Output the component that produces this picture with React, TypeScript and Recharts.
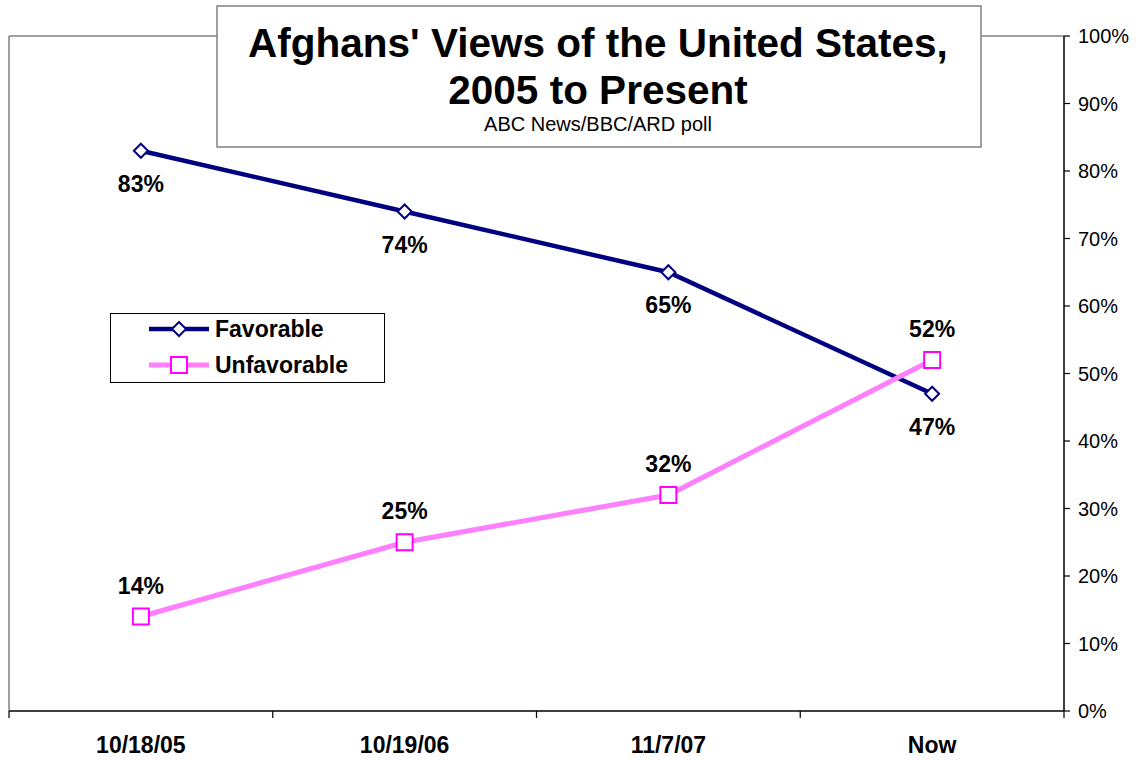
import React from 'react';
import { LineChart, Line, XAxis, YAxis, ReferenceLine, LabelList, Legend } from 'recharts';

const categories = ['10/18/05', '10/19/06', '11/7/07', 'Now'];
const favorable = [83, 74, 65, 47];
const unfavorable = [14, 25, 32, 52];
const yTicks = [0, 10, 20, 30, 40, 50, 60, 70, 80, 90, 100];
const xBoundaries = [-0.5, 0.5, 1.5, 2.5, 3.5];
const xCenters = [0, 1, 2, 3];
const seriesNames = ['Favorable', 'Unfavorable'];

const data = categories.map((c, i) => ({
  x: i,
  cat: c,
  favorable: favorable[i],
  unfavorable: unfavorable[i],
}));

const FONT = 'Arial, "Liberation Sans", Helvetica, sans-serif';
const NAVY = '#000080';
const PINK = '#FF80FF';
const MAGENTA = '#FF00FF';
const GRAY = '#808080';

const Diamond = (props: any) => {
  const { cx, cy, index } = props;
  if (cx == null || cy == null) return null;
  const r = 7;
  return (
    <path
      key={`d-${index}`}
      d={`M${cx},${cy - r}L${cx + r},${cy}L${cx},${cy + r}L${cx - r},${cy}Z`}
      fill="#fff"
      stroke={NAVY}
      strokeWidth={2}
    />
  );
};

const Square = (props: any) => {
  const { cx, cy, index } = props;
  if (cx == null || cy == null) return null;
  const r = 8;
  return (
    <rect key={`s-${index}`} x={cx - r} y={cy - r} width={2 * r} height={2 * r} fill="#fff" stroke={MAGENTA} strokeWidth={2} />
  );
};

const makeLabel = (dy: number) => (p: any) => {
  const { x, y, value, index } = p;
  return (
    <text
      key={`l-${index}-${dy}`}
      x={x}
      y={y + dy}
      textAnchor="middle"
      fontFamily={FONT}
      fontWeight="bold"
      fontSize={23}
      fill="#000"
    >
      {`${value}%`}
    </text>
  );
};

const renderLegend = () => (
  <div
    style={{
      width: 275,
      height: 70,
      border: '1px solid #000',
      background: '#fff',
      boxSizing: 'border-box',
    }}
  >
    <svg width={273} height={68} style={{ display: 'block' }}>
      <line x1={38} x2={98} y1={15} y2={15} stroke={NAVY} strokeWidth={4.5} />
      <Diamond cx={68} cy={15} index={99} />
      <text x={104} y={23} fontFamily={FONT} fontWeight="bold" fontSize={23} fill="#000">
        {seriesNames[0]}
      </text>
      <line x1={38} x2={98} y1={51} y2={51} stroke={PINK} strokeWidth={5} />
      <Square cx={68} cy={51} index={98} />
      <text x={104} y={59} fontFamily={FONT} fontWeight="bold" fontSize={23} fill="#000">
        {seriesNames[1]}
      </text>
    </svg>
  </div>
);

export default function App() {
  return (
    <div style={{ position: 'absolute', left: 0, top: 0, width: 1136, height: 760, background: '#fff' }}>
      <LineChart
        width={1136}
        height={760}
        data={data}
        margin={{ top: 36, left: 9, right: 0, bottom: 0 }}
      >
        <XAxis
          dataKey="x"
          type="number"
          domain={[-0.5, 3.5]}
          ticks={xBoundaries}
          interval={0}
          height={8}
          tickSize={7}
          tickFormatter={() => ''}
          axisLine={{ stroke: '#000', strokeWidth: 1.5 }}
          tickLine={{ stroke: '#000', strokeWidth: 1.2 }}
        />
        <XAxis
          xAxisId="lbl"
          dataKey="x"
          type="number"
          domain={[-0.5, 3.5]}
          ticks={xCenters}
          interval={0}
          height={41}
          tickSize={0}
          tickMargin={18}
          axisLine={false}
          tickLine={false}
          tickFormatter={(v: number) => categories[v] ?? ''}
          tick={{ fontSize: 23, fontWeight: 'bold', fill: '#000', fontFamily: FONT }}
        />
        <YAxis
          orientation="right"
          domain={[0, 100]}
          ticks={yTicks}
          interval={0}
          width={72}
          tickSize={6}
          tickMargin={8}
          tickFormatter={(v: number) => `${v}%`}
          tick={{ fontSize: 20, fill: '#000', fontFamily: FONT }}
          axisLine={{ stroke: '#000', strokeWidth: 1.5 }}
          tickLine={{ stroke: '#000', strokeWidth: 1.2 }}
        />
        <ReferenceLine y={100} stroke={GRAY} strokeWidth={1.5} />
        <ReferenceLine x={-0.5} stroke={GRAY} strokeWidth={1.5} />
        <Legend
          layout="vertical"
          align="center"
          verticalAlign="middle"
          content={renderLegend}
          wrapperStyle={{ left: 110, top: 313, right: 'auto', bottom: 'auto', width: 275, height: 70 }}
        />
        <Line
          name={seriesNames[0]}
          dataKey="favorable"
          stroke={NAVY}
          strokeWidth={4.5}
          dot={Diamond}
          activeDot={false}
          isAnimationActive={false}
        >
          <LabelList dataKey="favorable" content={makeLabel(41)} />
        </Line>
        <Line
          name={seriesNames[1]}
          dataKey="unfavorable"
          stroke={PINK}
          strokeWidth={5}
          dot={Square}
          activeDot={false}
          isAnimationActive={false}
        >
          <LabelList dataKey="unfavorable" content={makeLabel(-23)} />
        </Line>
      </LineChart>
      <svg
        width={1136}
        height={760}
        style={{ position: 'absolute', left: 0, top: 0, pointerEvents: 'none' }}
      >
        <rect x={217} y={6} width={764} height={141} fill="#fff" stroke={GRAY} strokeWidth={1.5} />
        <text x={598} y={57} textAnchor="middle" fontFamily={FONT} fontWeight="bold" fontSize={40.5} fill="#000">
          Afghans' Views of the United States,
        </text>
        <text x={598} y={104} textAnchor="middle" fontFamily={FONT} fontWeight="bold" fontSize={40.5} fill="#000">
          2005 to Present
        </text>
        <text x={598} y={131} textAnchor="middle" fontFamily={FONT} fontSize={20} fill="#000">
          ABC News/BBC/ARD poll
        </text>
      </svg>
    </div>
  );
}
